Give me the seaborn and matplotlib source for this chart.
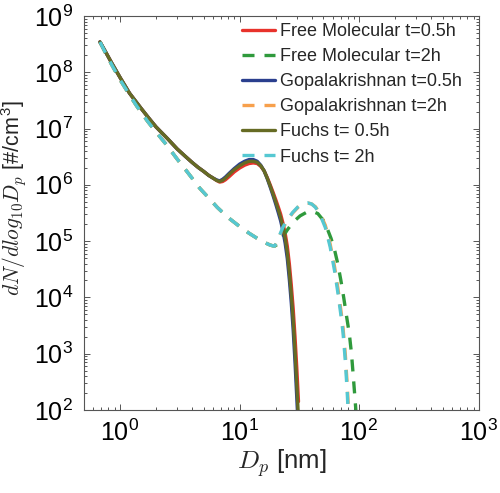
import matplotlib
matplotlib.use("Agg")
import numpy as np
import pandas as pd
import seaborn as sns
from matplotlib import pyplot as plt
from matplotlib import ticker

# particle diameter [nm] and log10(dN/dlog10Dp)
dp_05 = [0.68, 0.75, 0.85, 1.0, 1.2, 1.5, 1.75, 2.0, 2.5, 3.0, 3.5, 4.0, 4.5, 5.0, 5.5,
         6.0, 6.4, 6.8, 7.2, 7.6, 8.2, 9, 10, 11, 12, 13, 14, 15, 16, 17, 18, 19, 20,
         21, 22, 23, 24, 25, 26, 27, 28, 29, 30, 31]
fu_05_log = [8.54, 8.38, 8.17, 7.91, 7.63, 7.36, 7.18, 7.03, 6.82, 6.64, 6.51, 6.40, 6.31,
             6.24, 6.17, 6.12, 6.08, 6.06, 6.08, 6.12, 6.19, 6.27, 6.34, 6.39, 6.42, 6.42,
             6.40, 6.34, 6.25, 6.12, 5.98, 5.84, 5.70, 5.56, 5.42, 5.25, 5.05, 4.80, 4.45,
             4.05, 3.60, 3.05, 2.45, 1.85]
fm_05_log = [8.54, 8.38, 8.17, 7.91, 7.63, 7.36, 7.18, 7.03, 6.82, 6.64, 6.51, 6.40, 6.31,
             6.24, 6.17, 6.12, 6.08, 6.05, 6.06, 6.09, 6.15, 6.23, 6.30, 6.35, 6.38, 6.39,
             6.38, 6.33, 6.25, 6.13, 6.00, 5.87, 5.74, 5.61, 5.48, 5.32, 5.14, 4.91, 4.60,
             4.22, 3.80, 3.30, 2.75, 2.15]
gk_05_log = [8.54, 8.38, 8.17, 7.91, 7.63, 7.36, 7.18, 7.03, 6.82, 6.64, 6.51, 6.40, 6.31,
             6.24, 6.17, 6.12, 6.09, 6.07, 6.10, 6.14, 6.21, 6.29, 6.37, 6.42, 6.45, 6.45,
             6.42, 6.35, 6.25, 6.11, 5.96, 5.81, 5.66, 5.51, 5.36, 5.18, 4.96, 4.69, 4.32,
             3.90, 3.42, 2.85, 2.22, 1.60]

dp_2 = [0.68, 0.75, 0.85, 1.0, 1.2, 1.38, 1.7, 2.0, 2.45, 3.0, 3.5, 4.0, 4.64, 5.5, 6.5,
        8.0, 10, 12, 14, 16, 18, 19.5, 20.5, 21.5, 23, 25, 27.7, 31, 34, 37, 40, 43, 47,
        52, 57, 62, 66, 70, 73, 76.5, 79, 81, 83]
fu_2_log = [8.54, 8.36, 8.14, 7.87, 7.60, 7.40, 7.13, 6.94, 6.71, 6.46, 6.28, 6.12, 5.94,
            5.77, 5.60, 5.42, 5.26, 5.14, 5.05, 4.98, 4.93, 4.91, 4.98, 5.10, 5.25, 5.38,
            5.51, 5.62, 5.66, 5.68, 5.66, 5.60, 5.47, 5.24, 4.90, 4.48, 4.10, 3.70, 3.38,
            2.85, 2.35, 1.90, 1.50]
gk_2_log = [8.54, 8.36, 8.14, 7.87, 7.60, 7.40, 7.13, 6.94, 6.71, 6.46, 6.28, 6.12, 5.94,
            5.77, 5.60, 5.42, 5.26, 5.14, 5.05, 4.98, 4.93, 4.91, 4.97, 5.08, 5.23, 5.37,
            5.50, 5.61, 5.66, 5.68, 5.66, 5.61, 5.49, 5.28, 4.95, 4.55, 4.18, 3.78, 3.47,
            2.96, 2.48, 2.03, 1.65]

dp_fm_2 = [0.68, 0.75, 0.85, 1.0, 1.2, 1.38, 1.7, 2.0, 2.45, 3.0, 3.5, 4.0, 4.64, 5.5, 6.5,
           8.0, 10, 12, 14, 16, 18, 19.5, 21, 22.5, 25, 28, 32, 36, 40.5, 45, 50, 54, 58,
           62, 66, 70, 74, 78, 82.5, 86, 89, 92, 95, 97]
fm_2_log = [8.54, 8.36, 8.14, 7.87, 7.60, 7.40, 7.13, 6.94, 6.71, 6.46, 6.28, 6.12, 5.94,
            5.77, 5.60, 5.42, 5.26, 5.14, 5.05, 4.98, 4.93, 4.91, 4.95, 5.05, 5.20, 5.34,
            5.45, 5.51, 5.53, 5.49, 5.37, 5.22, 5.05, 4.85, 4.60, 4.31, 4.00, 3.68, 3.35,
            3.00, 2.60, 2.20, 1.80, 1.50]

labels = ["Free Molecular t=0.5h", "Free Molecular t=2h", "Gopalakrishnan t=0.5h",
          "Gopalakrishnan t=2h", "Fuchs t= 0.5h", "Fuchs t= 2h"]
series = [(dp_05, fm_05_log), (dp_fm_2, fm_2_log), (dp_05, gk_05_log),
          (dp_2, gk_2_log), (dp_05, fu_05_log), (dp_2, fu_2_log)]
colors = ["#e8322b", "#2f9a3c", "#2a3f8e", "#f7a04c", "#666b24", "#55c8d2"]
dashed = [False, True, False, True, False, True]

sns.set_style("ticks", {"xtick.direction": "in", "ytick.direction": "in",
                        "axes.edgecolor": "#555555"})
plt.rcParams["font.family"] = ["Liberation Sans", "DejaVu Sans"]
plt.rcParams["mathtext.fontset"] = "cm"

fig = plt.figure(figsize=(5.0, 4.93), dpi=100)
ax = fig.add_axes([0.168, 0.1684, 0.79, 0.799])

for (d, v), lab, c, dsh in zip(series, labels, colors, dashed):
    df = pd.DataFrame({"Dp": d, "N": 10 ** np.array(v)})
    sns.lineplot(x="Dp", y="N", data=df, color=c, lw=2.4, label=lab, ax=ax)
    if dsh:
        ax.lines[-1].set_linestyle((0, (3.6, 3.0)))

ax.set_xscale("log")
ax.set_yscale("log")
ax.set_xlim(0.5, 1000)
ax.set_ylim(1e2, 1e9)

fmt = ticker.FuncFormatter(lambda v, p: f"10$^{{\\mathregular{{{int(round(np.log10(v)))}}}}}$")
ax.xaxis.set_major_formatter(fmt)
ax.yaxis.set_major_formatter(fmt)
ax.xaxis.set_minor_formatter(ticker.NullFormatter())
ax.yaxis.set_minor_formatter(ticker.NullFormatter())
ax.yaxis.set_major_locator(ticker.LogLocator(base=10, numticks=20))
ax.yaxis.set_minor_locator(ticker.LogLocator(base=10, subs=np.arange(2, 10), numticks=20))
ax.tick_params(which="both", top=True, right=True, labelsize=18, colors="#555555",
               labelcolor="black", width=0.7)
ax.tick_params(which="major", length=4, pad=7)
ax.tick_params(which="minor", length=2.2)
for s in ax.spines.values():
    s.set_linewidth(0.8)

ax.set_xlabel("$D_p$ [nm]", fontsize=18.5, labelpad=1)
ax.set_ylabel("$dN/dlog_{10}D_p$ [#/cm$^{\\mathregular{3}}$]", fontsize=15.5)
ax.yaxis.set_label_coords(-0.14, 0.54)

ax.legend(loc="upper left", bbox_to_anchor=(242 / 500, 1 - 23 / 493),
          bbox_transform=fig.transFigure, frameon=False, fontsize=13,
          handlelength=1.85, handletextpad=0.28, labelspacing=0.45, borderpad=0,
          borderaxespad=0)

fig.savefig("out.png", dpi=100)
